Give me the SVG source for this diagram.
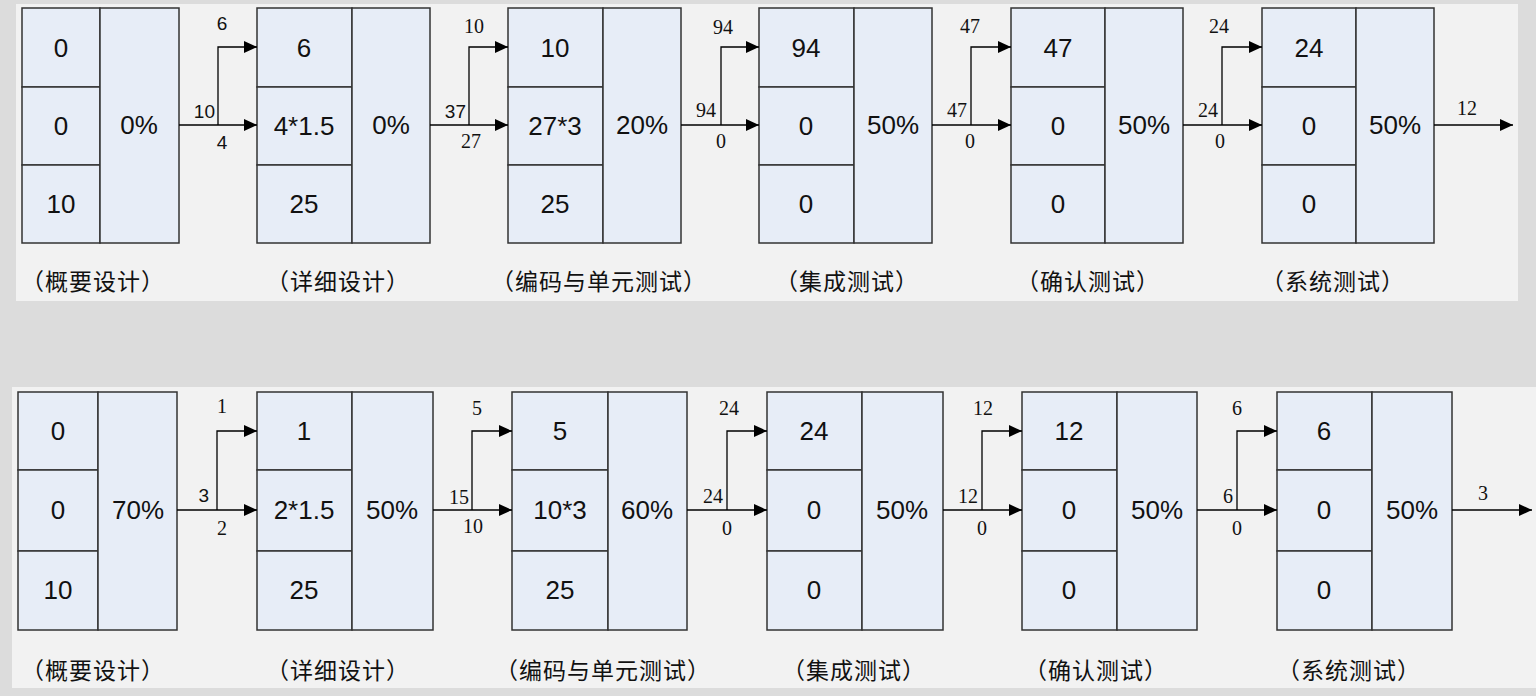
<svg xmlns="http://www.w3.org/2000/svg" width="1536" height="696" viewBox="0 0 1536 696">
<style>
.c{fill:#e7edf7;stroke:#333;stroke-width:1.5}
.v{font-family:"Liberation Sans",Arial,sans-serif;font-size:26px;fill:#111;text-anchor:middle}
.l{font-family:"Liberation Serif","Times New Roman",serif;font-size:20px;fill:#111}
.ls{font-family:"Liberation Sans",Arial,sans-serif;font-size:19px;fill:#111}
.m{text-anchor:middle}.e{text-anchor:end}
.cap{font-family:"Noto Sans CJK SC","Noto Sans CJK JP",sans-serif;font-size:23px;letter-spacing:1px;fill:#111;text-anchor:middle}
.k{fill:none;stroke:#000;stroke-width:1.3}
</style>
<defs>
<marker id="a" markerUnits="userSpaceOnUse" markerWidth="13" markerHeight="12" refX="13" refY="6" orient="auto"><path d="M0,0L13,6L0,12Z" fill="#000"/></marker>
</defs>
<rect width="1536" height="696" fill="#dcdcdc"/>
<rect x="16" y="4" width="1502" height="297" fill="#f2f2f2"/>
<rect x="12" y="387" width="1524" height="301" fill="#f2f2f2"/>

<g id="t1"><rect class="c" x="22" y="8" width="78" height="79"/><rect class="c" x="22" y="87" width="78" height="78"/><rect class="c" x="22" y="165" width="78" height="78"/><rect class="c" x="100" y="8" width="79" height="235"/>
<text class="v" x="61" y="57">0</text><text class="v" x="61" y="135">0</text><text class="v" x="61" y="213">10</text><text class="v" x="139" y="134">0%</text><text class="cap" x="93" y="290">（概要设计）</text></g>
<g id="t2"><rect class="c" x="257" y="8" width="95" height="79"/><rect class="c" x="257" y="87" width="95" height="78"/><rect class="c" x="257" y="165" width="95" height="78"/><rect class="c" x="352" y="8" width="78" height="235"/>
<text class="v" x="304" y="57">6</text><text class="v" x="304" y="135">4*1.5</text><text class="v" x="304" y="213">25</text><text class="v" x="391" y="134">0%</text><text class="cap" x="338" y="290">（详细设计）</text></g>
<g id="t3"><rect class="c" x="508" y="8" width="95" height="79"/><rect class="c" x="508" y="87" width="95" height="78"/><rect class="c" x="508" y="165" width="95" height="78"/><rect class="c" x="603" y="8" width="78" height="235"/>
<text class="v" x="555" y="57">10</text><text class="v" x="555" y="135">27*3</text><text class="v" x="555" y="213">25</text><text class="v" x="642" y="134">20%</text><text class="cap" x="599" y="290">（编码与单元测试）</text></g>
<g id="t4"><rect class="c" x="759" y="8" width="95" height="79"/><rect class="c" x="759" y="87" width="95" height="78"/><rect class="c" x="759" y="165" width="95" height="78"/><rect class="c" x="854" y="8" width="78" height="235"/>
<text class="v" x="806" y="57">94</text><text class="v" x="806" y="135">0</text><text class="v" x="806" y="213">0</text><text class="v" x="893" y="134">50%</text><text class="cap" x="847" y="290">（集成测试）</text></g>
<g id="t5"><rect class="c" x="1011" y="8" width="94" height="79"/><rect class="c" x="1011" y="87" width="94" height="78"/><rect class="c" x="1011" y="165" width="94" height="78"/><rect class="c" x="1105" y="8" width="78" height="235"/>
<text class="v" x="1058" y="57">47</text><text class="v" x="1058" y="135">0</text><text class="v" x="1058" y="213">0</text><text class="v" x="1144" y="134">50%</text><text class="cap" x="1088" y="290">（确认测试）</text></g>
<g id="t6"><rect class="c" x="1262" y="8" width="94" height="79"/><rect class="c" x="1262" y="87" width="94" height="78"/><rect class="c" x="1262" y="165" width="94" height="78"/><rect class="c" x="1356" y="8" width="78" height="235"/>
<text class="v" x="1309" y="57">24</text><text class="v" x="1309" y="135">0</text><text class="v" x="1309" y="213">0</text><text class="v" x="1395" y="134">50%</text><text class="cap" x="1333" y="290">（系统测试）</text></g>

<g id="b1"><rect class="c" x="18" y="392" width="80" height="78"/><rect class="c" x="18" y="470" width="80" height="81"/><rect class="c" x="18" y="551" width="80" height="79"/><rect class="c" x="98" y="392" width="79" height="238"/>
<text class="v" x="58" y="440">0</text><text class="v" x="58" y="519">0</text><text class="v" x="58" y="599">10</text><text class="v" x="138" y="519">70%</text><text class="cap" x="93" y="679">（概要设计）</text></g>
<g id="b2"><rect class="c" x="257" y="392" width="95" height="78"/><rect class="c" x="257" y="470" width="95" height="81"/><rect class="c" x="257" y="551" width="95" height="79"/><rect class="c" x="352" y="392" width="81" height="238"/>
<text class="v" x="304" y="440">1</text><text class="v" x="304" y="519">2*1.5</text><text class="v" x="304" y="599">25</text><text class="v" x="392" y="519">50%</text><text class="cap" x="338" y="679">（详细设计）</text></g>
<g id="b3"><rect class="c" x="512" y="392" width="96" height="78"/><rect class="c" x="512" y="470" width="96" height="81"/><rect class="c" x="512" y="551" width="96" height="79"/><rect class="c" x="608" y="392" width="79" height="238"/>
<text class="v" x="560" y="440">5</text><text class="v" x="560" y="519">10*3</text><text class="v" x="560" y="599">25</text><text class="v" x="647" y="519">60%</text><text class="cap" x="603" y="679">（编码与单元测试）</text></g>
<g id="b4"><rect class="c" x="767" y="392" width="95" height="78"/><rect class="c" x="767" y="470" width="95" height="81"/><rect class="c" x="767" y="551" width="95" height="79"/><rect class="c" x="862" y="392" width="81" height="238"/>
<text class="v" x="814" y="440">24</text><text class="v" x="814" y="519">0</text><text class="v" x="814" y="599">0</text><text class="v" x="902" y="519">50%</text><text class="cap" x="854" y="679">（集成测试）</text></g>
<g id="b5"><rect class="c" x="1022" y="392" width="95" height="78"/><rect class="c" x="1022" y="470" width="95" height="81"/><rect class="c" x="1022" y="551" width="95" height="79"/><rect class="c" x="1117" y="392" width="80" height="238"/>
<text class="v" x="1069" y="440">12</text><text class="v" x="1069" y="519">0</text><text class="v" x="1069" y="599">0</text><text class="v" x="1157" y="519">50%</text><text class="cap" x="1096" y="679">（确认测试）</text></g>
<g id="b6"><rect class="c" x="1277" y="392" width="95" height="78"/><rect class="c" x="1277" y="470" width="95" height="81"/><rect class="c" x="1277" y="551" width="95" height="79"/><rect class="c" x="1372" y="392" width="80" height="238"/>
<text class="v" x="1324" y="440">6</text><text class="v" x="1324" y="519">0</text><text class="v" x="1324" y="599">0</text><text class="v" x="1412" y="519">50%</text><text class="cap" x="1349" y="679">（系统测试）</text></g>

<g id="connectors">
<path class="k" marker-end="url(#a)" d="M179,125H257"/><path class="k" marker-end="url(#a)" d="M218,125V47H257"/>
<path class="k" marker-end="url(#a)" d="M430,125H508"/><path class="k" marker-end="url(#a)" d="M469,125V47H508"/>
<path class="k" marker-end="url(#a)" d="M681,125H759"/><path class="k" marker-end="url(#a)" d="M721,125V47H759"/>
<path class="k" marker-end="url(#a)" d="M932,125H1011"/><path class="k" marker-end="url(#a)" d="M971,125V47H1011"/>
<path class="k" marker-end="url(#a)" d="M1183,125H1262"/><path class="k" marker-end="url(#a)" d="M1222,125V47H1262"/>
<path class="k" marker-end="url(#a)" d="M1434,125H1513"/>
<text class="ls e" x="215" y="118">10</text><text class="ls m" x="222" y="30">6</text><text class="ls m" x="222" y="149">4</text>
<text class="ls e" x="466" y="118">37</text><text class="l m" x="474" y="33">10</text><text class="l m" x="471" y="148">27</text>
<text class="l e" x="716" y="117">94</text><text class="l m" x="723" y="34">94</text><text class="l m" x="721" y="148">0</text>
<text class="l e" x="967" y="117">47</text><text class="l m" x="970" y="33">47</text><text class="l m" x="970" y="148">0</text>
<text class="l e" x="1218" y="117">24</text><text class="l m" x="1219" y="33">24</text><text class="l m" x="1220" y="148">0</text>
<text class="l m" x="1467" y="115">12</text>

<path class="k" marker-end="url(#a)" d="M177,510H257"/><path class="k" marker-end="url(#a)" d="M217,510V431H257"/>
<path class="k" marker-end="url(#a)" d="M433,510H512"/><path class="k" marker-end="url(#a)" d="M472,510V431H512"/>
<path class="k" marker-end="url(#a)" d="M687,510H767"/><path class="k" marker-end="url(#a)" d="M727,510V431H767"/>
<path class="k" marker-end="url(#a)" d="M943,510H1022"/><path class="k" marker-end="url(#a)" d="M982,510V431H1022"/>
<path class="k" marker-end="url(#a)" d="M1197,510H1277"/><path class="k" marker-end="url(#a)" d="M1237,510V431H1277"/>
<path class="k" marker-end="url(#a)" d="M1452,510H1532"/>
<text class="ls e" x="209" y="502">3</text><text class="l m" x="222" y="413">1</text><text class="l m" x="222" y="535">2</text>
<text class="l e" x="469" y="504">15</text><text class="l m" x="477" y="415">5</text><text class="l m" x="473" y="533">10</text>
<text class="l e" x="723" y="503">24</text><text class="l m" x="729" y="415">24</text><text class="l m" x="727" y="535">0</text>
<text class="l e" x="978" y="503">12</text><text class="l m" x="983" y="415">12</text><text class="l m" x="982" y="535">0</text>
<text class="l e" x="1233" y="503">6</text><text class="l m" x="1237" y="415">6</text><text class="l m" x="1237" y="535">0</text>
<text class="l m" x="1483" y="500">3</text>
</g>
</svg>
